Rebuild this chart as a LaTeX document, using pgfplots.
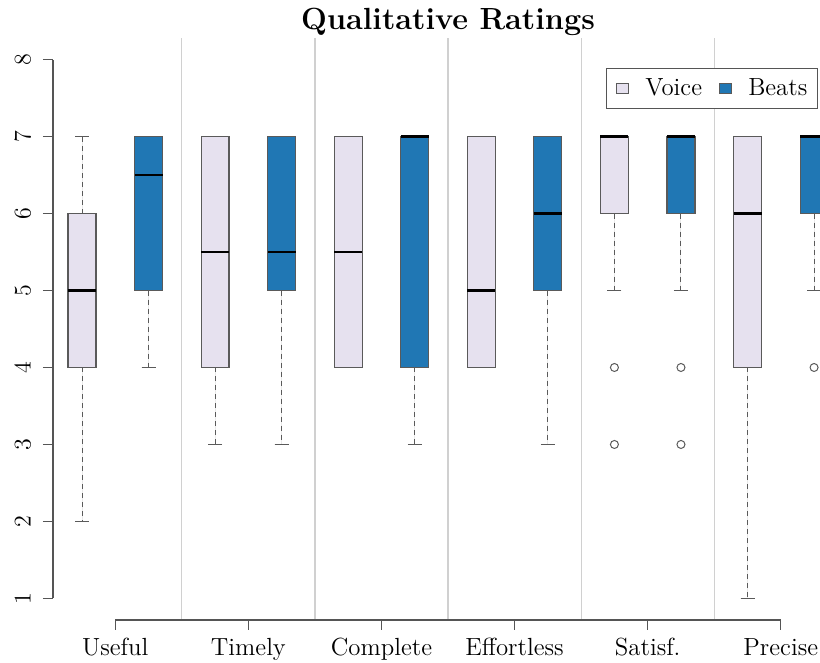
\documentclass[border=0pt]{standalone}
\usepackage{pgfplots}
\pgfplotsset{compat=1.18}
\usepgfplotslibrary{statistics}
\definecolor{voice}{HTML}{E6E1EF}
\definecolor{beats}{HTML}{2077B4}
\definecolor{axgray}{HTML}{555555}
\definecolor{boxgray}{HTML}{5A5A5A}
\definecolor{sepgray}{HTML}{D0D0D0}
\begin{document}
\begin{tikzpicture}
\begin{axis}[
  name=ax,
  scale only axis,
  width=383.5pt, height=291pt,
  xmin=0.5642, xmax=12.089,
  ymin=0.72, ymax=8.28,
  axis line style={draw=none},
  clip mode=individual,
  xtick={1.5,3.5,5.5,7.5,9.5,11.5},
  xticklabels={Useful,Timely,Complete,Effortless,Satisf.,Precise},
  ytick={1,2,3,4,5,6,7,8},
  extra x ticks={2.5,4.5,6.5,8.5,10.5},
  extra x tick labels={},
  extra x tick style={grid=major, major grid style={sepgray, line width=0.6pt}, major tick length=0pt},
  tick align=outside,
  tick pos=left,
  major tick length=5pt,
  tick style={axgray, line width=0.6pt},
  ticklabel style={font=\fontsize{12.4}{14}\selectfont},
  yticklabel style={rotate=90, anchor=south, inner sep=0pt},
  yticklabel shift=6pt,
  xticklabel style={anchor=base, inner sep=0pt},
  xticklabel shift=13pt,
  boxplot/draw direction=y,
  boxplot/box extend=0.42,
  boxplot/whisker extend=0.21,
  boxplot/every median/.style={black, line width=1.3pt},
  boxplot/every box/.style={line width=0.6pt},
  boxplot/draw/lower whisker/.code={%
    \pgfmathparse{\pgfplotsboxplotvalue{lower quartile}-\pgfplotsboxplotvalue{lower whisker}}%
    \ifdim\pgfmathresult pt>0.01pt
      \draw[boxgray, line width=0.5pt, dash pattern=on 2.5pt off 2pt]
        (boxplot whisker cs:\pgfplotsboxplotvalue{lower quartile},0.5) --
        (boxplot whisker cs:\pgfplotsboxplotvalue{lower whisker},0.5);
      \draw[boxgray, line width=0.6pt, solid]
        (boxplot whisker cs:\pgfplotsboxplotvalue{lower whisker},0) --
        (boxplot whisker cs:\pgfplotsboxplotvalue{lower whisker},1);
    \fi
  },
  boxplot/draw/upper whisker/.code={%
    \pgfmathparse{\pgfplotsboxplotvalue{upper whisker}-\pgfplotsboxplotvalue{upper quartile}}%
    \ifdim\pgfmathresult pt>0.01pt
      \draw[boxgray, line width=0.5pt, dash pattern=on 2.5pt off 2pt]
        (boxplot whisker cs:\pgfplotsboxplotvalue{upper quartile},0.5) --
        (boxplot whisker cs:\pgfplotsboxplotvalue{upper whisker},0.5);
      \draw[boxgray, line width=0.6pt, solid]
        (boxplot whisker cs:\pgfplotsboxplotvalue{upper whisker},0) --
        (boxplot whisker cs:\pgfplotsboxplotvalue{upper whisker},1);
    \fi
  },
  legend style={at={(0.9974,0.948)}, anchor=north east, draw=axgray, line width=0.6pt,
    font=\fontsize{12.4}{14}\selectfont, inner xsep=5pt, inner ysep=5pt,
    nodes={inner sep=0pt},
    /tikz/every odd column/.append style={column sep=8pt},
    /tikz/every even column/.append style={column sep=8.5pt}},
  legend columns=2,
  legend cell align=left,
]
\addlegendimage{legend image code/.code={\draw[fill=voice, draw=boxgray, line width=0.6pt] (0pt,-2.5pt) rectangle (6pt,2.5pt);}}
\addlegendentry{Voice}
\addlegendimage{legend image code/.code={\draw[fill=beats, draw=boxgray, line width=0.6pt] (0pt,-2.5pt) rectangle (6pt,2.5pt);}}
\addlegendentry{Beats}

% Useful
\addplot[forget plot, draw=boxgray, fill=voice, mark=o, mark options={boxgray, line width=0.5pt, fill=none}, mark size=2pt,
  boxplot prepared={draw position=1, lower whisker=2, lower quartile=4, median=5, upper quartile=6, upper whisker=7}] coordinates {};
\addplot[forget plot, draw=boxgray, fill=beats, mark=o, mark options={boxgray, line width=0.5pt, fill=none}, mark size=2pt,
  boxplot prepared={draw position=2, lower whisker=4, lower quartile=5, median=6.5, upper quartile=7, upper whisker=7}] coordinates {};
% Timely
\addplot[forget plot, draw=boxgray, fill=voice, mark=o, mark options={boxgray, line width=0.5pt, fill=none}, mark size=2pt,
  boxplot prepared={draw position=3, lower whisker=3, lower quartile=4, median=5.5, upper quartile=7, upper whisker=7}] coordinates {};
\addplot[forget plot, draw=boxgray, fill=beats, mark=o, mark options={boxgray, line width=0.5pt, fill=none}, mark size=2pt,
  boxplot prepared={draw position=4, lower whisker=3, lower quartile=5, median=5.5, upper quartile=7, upper whisker=7}] coordinates {};
% Complete
\addplot[forget plot, draw=boxgray, fill=voice, mark=o, mark options={boxgray, line width=0.5pt, fill=none}, mark size=2pt,
  boxplot prepared={draw position=5, lower whisker=4, lower quartile=4, median=5.5, upper quartile=7, upper whisker=7}] coordinates {};
\addplot[forget plot, draw=boxgray, fill=beats, mark=o, mark options={boxgray, line width=0.5pt, fill=none}, mark size=2pt,
  boxplot prepared={draw position=6, lower whisker=3, lower quartile=4, median=7, upper quartile=7, upper whisker=7}] coordinates {};
% Effortless
\addplot[forget plot, draw=boxgray, fill=voice, mark=o, mark options={boxgray, line width=0.5pt, fill=none}, mark size=2pt,
  boxplot prepared={draw position=7, lower whisker=4, lower quartile=4, median=5, upper quartile=7, upper whisker=7}] coordinates {};
\addplot[forget plot, draw=boxgray, fill=beats, mark=o, mark options={boxgray, line width=0.5pt, fill=none}, mark size=2pt,
  boxplot prepared={draw position=8, lower whisker=3, lower quartile=5, median=6, upper quartile=7, upper whisker=7}] coordinates {};
% Satisf.
\addplot[forget plot, draw=boxgray, fill=voice, mark=o, mark options={boxgray, line width=0.5pt, fill=none}, mark size=2pt,
  boxplot prepared={draw position=9, lower whisker=5, lower quartile=6, median=7, upper quartile=7, upper whisker=7}]
  table[row sep=\\, y index=0] {v\\4\\3\\};
\addplot[forget plot, draw=boxgray, fill=beats, mark=o, mark options={boxgray, line width=0.5pt, fill=none}, mark size=2pt,
  boxplot prepared={draw position=10, lower whisker=5, lower quartile=6, median=7, upper quartile=7, upper whisker=7}]
  table[row sep=\\, y index=0] {v\\4\\3\\};
% Precise
\addplot[forget plot, draw=boxgray, fill=voice, mark=o, mark options={boxgray, line width=0.5pt, fill=none}, mark size=2pt,
  boxplot prepared={draw position=11, lower whisker=1, lower quartile=4, median=6, upper quartile=7, upper whisker=7}] coordinates {};
\addplot[forget plot, draw=boxgray, fill=beats, mark=o, mark options={boxgray, line width=0.5pt, fill=none}, mark size=2pt,
  boxplot prepared={draw position=12, lower whisker=5, lower quartile=6, median=7, upper quartile=7, upper whisker=7}]
  table[row sep=\\, y index=0] {v\\4\\};

% axis lines (R style)
\draw[axgray, line width=0.6pt] (axis cs:0.5642,1) -- (axis cs:0.5642,8);
\draw[axgray, line width=0.6pt] (axis cs:1.5,0.72) -- (axis cs:11.5,0.72);
% title
\node[anchor=base, yshift=4pt, font=\fontsize{15.3}{18}\selectfont\bfseries] at (axis cs:6.5,8.28) {Qualitative Ratings};
\end{axis}
\pgfresetboundingbox
\useasboundingbox (ax.south west) ++(-26.5pt,-21.5pt) rectangle ++(410pt,331.5pt);
\end{tikzpicture}
\end{document}
